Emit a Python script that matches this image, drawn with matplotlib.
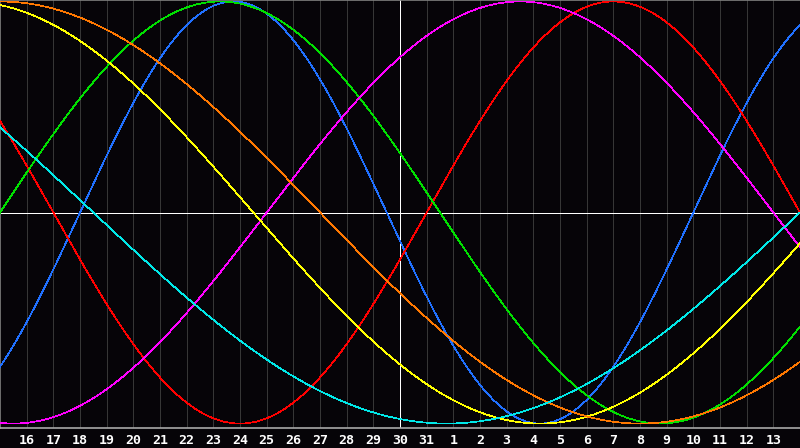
import numpy as np
import matplotlib
matplotlib.use('Agg')
import matplotlib.pyplot as plt

# Biorhythm cycles (days) and their colours
periods = [23, 28, 33, 38, 43, 48, 53]
colors = ['#2070ff', '#ff0000', '#00e000', '#ff00ff', '#ffff00', '#ff7800', '#00e8e8']

# days alive at the left edge of the chart (day 15)
days_alive = 28908
n_days = 30
today_idx = 15

day_labels = ['16', '17', '18', '19', '20', '21', '22', '23', '24', '25', '26', '27',
              '28', '29', '30', '31', '1', '2', '3', '4', '5', '6', '7', '8', '9',
              '10', '11', '12', '13']

bg = '#060408'

fig = plt.figure(figsize=(8, 4.48), dpi=100, facecolor=bg)
ax = fig.add_axes([0, 20 / 448, 1, 428 / 448])
ax.set_facecolor(bg)

t = np.linspace(0, n_days, 1200)
for p, c in zip(periods, colors):
    v = np.sin(2 * np.pi * (days_alive + t) / p)
    ax.plot(t, v, color=c, lw=0.5, antialiased=False, zorder=3)

# grid and centre lines
for i in range(1, n_days):
    ax.axvline(i, color='#363636', lw=0.72, zorder=1, antialiased=False)
ax.axhline(0, color='white', lw=0.72, zorder=2, antialiased=False)
ax.axvline(today_idx, color='white', lw=0.72, zorder=2, antialiased=False)

ax.set_xlim(0, n_days)
ax.set_ylim(-1.021, 1.007)
ax.set_yticks([])
ax.set_xticks(range(1, n_days))
ax.set_xticklabels(day_labels, color='white', fontsize=9.5,
                   fontfamily='DejaVu Sans Mono', fontweight='bold')
ax.tick_params(axis='x', length=0, pad=4)

for s in ['top', 'left']:
    ax.spines[s].set_color('#808080')
    ax.spines[s].set_linewidth(1.2)
ax.spines['bottom'].set_color('#a8a8a8')
ax.spines['bottom'].set_linewidth(1.2)
ax.spines['right'].set_visible(False)

fig.savefig('out.png', dpi=100, facecolor=bg)
